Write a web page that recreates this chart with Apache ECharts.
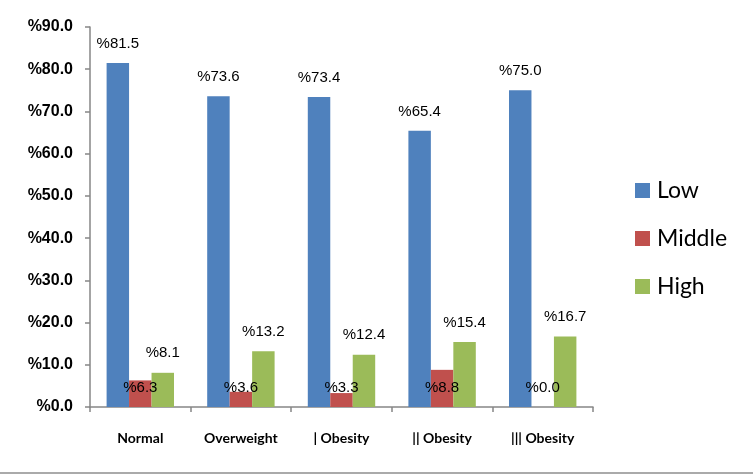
<!DOCTYPE html>
<html><head><meta charset="utf-8">
<script src="https://cdn.jsdelivr.net/npm/echarts@6/dist/echarts.min.js"></script>
<style>html,body{margin:0;padding:0;background:#fff}#c{width:753px;height:475px}</style>
</head><body><div id="c"></div>
<script>
const categories = ['Normal', 'Overweight', '| Obesity', '|| Obesity', '||| Obesity'];
const lowValues = [81.5, 73.6, 73.4, 65.4, 75.0];
const middleValues = [6.3, 3.6, 3.3, 8.8, 0.0];
const highValues = [8.1, 13.2, 12.4, 15.4, 16.7];
const seriesNames = ['Low', 'Middle', 'High'];

const chart = echarts.init(document.getElementById('c'));
const fmt = p => '%' + Number(p.value).toFixed(1);
const lblFont = {fontFamily: 'Liberation Sans', fontSize: 15, color: '#000'};
chart.setOption({
  animation: false,
  grid: {left: 90, right: 160, top: 27, bottom: 68},
  legend: {
    orient: 'vertical', left: 630, top: 174, itemGap: 25,
    itemWidth: 15, itemHeight: 15, icon: 'rect',
    textStyle: {fontFamily: 'Lato', fontSize: 23, color: '#000', padding: [0,0,0,2]},
    data: seriesNames
  },
  xAxis: {
    type: 'category', data: categories,
    axisLine: {lineStyle: {color: '#868686', width: 1.5}},
    axisTick: {show: true, length: 5, alignWithLabel: false, lineStyle: {color: '#868686', width: 1.5}},
    axisLabel: {fontFamily: 'Lato', fontWeight: 'bold', fontSize: 14, color: '#000', margin: 24}
  },
  yAxis: {
    type: 'value', min: 0, max: 90, interval: 10,
    splitLine: {show: false},
    axisLine: {show: true, lineStyle: {color: '#868686', width: 1.5}},
    axisTick: {show: true, length: 5, lineStyle: {color: '#868686', width: 1.5}},
    axisLabel: {fontFamily: 'Liberation Sans', fontWeight: 'bold', fontSize: 16, color: '#000', margin: 17,
      formatter: v => '%' + v.toFixed(1)}
  },
  series: [
    {name: 'Low', type: 'bar', data: lowValues, barGap: '0%', barCategoryGap: '33%',
     itemStyle: {color: '#4F81BD'},
     label: Object.assign({show: true, position: 'top', distance: 12, formatter: fmt}, lblFont)},
    {name: 'Middle', type: 'bar', data: middleValues, barGap: '0%', barCategoryGap: '33%',
     itemStyle: {color: '#C0504D'},
     label: Object.assign({show: true, position: 'insideBottom', distance: 12, formatter: fmt}, lblFont)},
    {name: 'High', type: 'bar', data: highValues, barGap: '0%', barCategoryGap: '33%',
     itemStyle: {color: '#9BBB59'},
     label: Object.assign({show: true, position: 'top', distance: 12, formatter: fmt}, lblFont)}
  ],
  graphic: [{type: 'line', shape: {x1: 0, y1: 473, x2: 753, y2: 473}, style: {stroke: '#aaa', lineWidth: 2}}]
});
</script></body></html>
